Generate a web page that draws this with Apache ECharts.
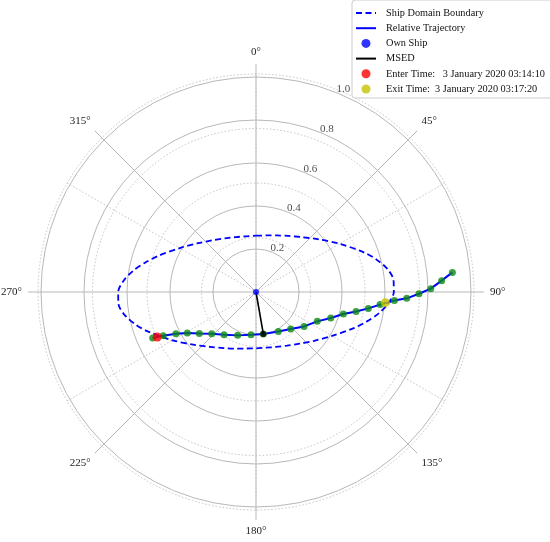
<!DOCTYPE html>
<html><head><meta charset="utf-8">
<script src="https://cdn.jsdelivr.net/npm/echarts@6/dist/echarts.min.js"></script>
<style>html,body{margin:0;padding:0;background:#fff}#c{width:550px;height:542px}</style>
</head><body><div id="c"></div>
<script>
// ---- data (radius in units, angle in degrees clockwise from north) ----
const angleTickLabels = ['0°','45°','90°','135°','180°','225°','270°','315°'];
const radiusTickValues = [0.2, 0.4, 0.6, 0.8, 1.0];
const radiusTickLabels = ['0.2', '0.4', '0.6', '0.8', '1.0'];

const domainAngle = [0,10,20,30,40,50,60,70,75,80,85,90,95,100,105,110,120,130,140,150,160,170,
  180,190,200,210,220,230,240,250,255,260,265,270,275,280,285,290,300,310,320,330,340,350,360];
const domainR = [0.262,0.267,0.280,0.301,0.333,0.381,0.449,0.536,0.581,0.620,0.642,0.641,0.617,0.578,0.532,0.487,0.409,0.353,0.314,0.288,0.272,0.263,
  0.262,0.267,0.280,0.301,0.333,0.381,0.449,0.536,0.581,0.620,0.642,0.641,0.617,0.578,0.532,0.487,0.409,0.353,0.314,0.288,0.272,0.263,0.262];

const trackAngle = [246.0,244.8,242.5,239.2,233.7,226.7,216.8,202.9,186.7,170.1,150.5,136.8,125.6,115.6,109.2,104.1,101.0,98.3,95.8,93.5,92.4,90.6,88.9,86.5,84.3];
const trackR = [0.526,0.477,0.420,0.372,0.327,0.283,0.248,0.219,0.200,0.198,0.211,0.236,0.275,0.316,0.368,0.419,0.474,0.528,0.580,0.645,0.702,0.758,0.813,0.865,0.918];

const ownShip = [0, 0];
const msedR = [0, 0.198];
const msedAngle = [0, 170.1];
const enterPoint = [0.505, 245.5];
const exitPoint = [0.604, 94.7];

const seriesNames = ['Ship Domain Boundary', 'Relative Trajectory', 'Own Ship', 'MSED',
  'Enter Time:   3 January 2020 03:14:10', 'Exit Time:  3 January 2020 03:17:20'];

// ---- chart ----
const FONT = 'Liberation Serif';
const C = [256, 292];
const gridColor = '#b8b8b8';
const dotColor = '#c4c4c4';
const NONE = 'rgba(0,0,0,0)';
const zip = (r, a) => r.map((v, i) => [v, a[i]]);

const chart = echarts.init(document.getElementById('c'), null, {renderer: 'canvas'});
const hiddenAngle = (idx) => ({polarIndex: idx, type: 'value', min: 0, max: 360, startAngle: 90, clockwise: true,
  axisLine: {show: false}, axisTick: {show: false}, axisLabel: {show: false}, splitLine: {show: false}});
const option = {
  animation: false,
  backgroundColor: '#fff',
  polar: [
    {center: C, radius: 228},
    {center: C, radius: 215},
    {center: C, radius: 218}
  ],
  angleAxis: [
    {polarIndex: 0, type: 'value', min: 0, max: 360, interval: 45, startAngle: 90, clockwise: true,
      axisLine: {show: false}, axisTick: {show: false},
      axisLabel: {margin: 6, fontFamily: FONT, fontSize: 11, color: '#222',
        formatter: v => angleTickLabels[Math.round(v / 45)] || ''},
      splitLine: {show: true, lineStyle: {color: gridColor, width: 1}}},
    hiddenAngle(1),
    {polarIndex: 2, type: 'value', min: 0, max: 360, interval: 60, startAngle: 90, clockwise: true,
      axisLine: {show: false}, axisTick: {show: false}, axisLabel: {show: false},
      splitLine: {show: true, lineStyle: {color: dotColor, width: 1, type: [1.5, 2]}}}
  ],
  radiusAxis: [
    {polarIndex: 0, type: 'value', min: 0, max: 1, axisLine: {show: false}, axisTick: {show: false},
      axisLabel: {show: false}, splitLine: {show: false}},
    {polarIndex: 1, type: 'value', min: 0, max: 1, interval: 0.2, axisLine: {show: false}, axisTick: {show: false},
      axisLabel: {show: false}, splitLine: {show: true, lineStyle: {color: gridColor, width: 1}}},
    {polarIndex: 2, type: 'value', min: 0, max: 1, interval: 0.25, axisLine: {show: false}, axisTick: {show: false},
      axisLabel: {show: false}, splitLine: {show: true, lineStyle: {color: dotColor, width: 1, type: [1.5, 2]}}}
  ],
  legend: {
    orient: 'vertical', left: 352, top: 0, selectedMode: false,
    itemWidth: 20, itemHeight: 9, itemGap: 3.2,
    padding: [7, 10, 3, 3],
    backgroundColor: '#fff', borderColor: '#cccccc', borderWidth: 1, borderRadius: 3,
    textStyle: {fontFamily: FONT, fontSize: 10.3, lineHeight: 12, color: '#111', padding: [0, 0, 0, 5]},
    data: [
      {name: seriesNames[0], itemStyle: {color: NONE, borderColor: NONE}},
      {name: seriesNames[1], itemStyle: {color: NONE, borderColor: NONE}},
      {name: seriesNames[2]},
      {name: seriesNames[3], itemStyle: {color: NONE, borderColor: NONE}},
      {name: seriesNames[4]},
      {name: seriesNames[5]}
    ]
  },
  series: [
    {name: seriesNames[0], type: 'line', coordinateSystem: 'polar', polarIndex: 1,
      data: zip(domainR, domainAngle), smooth: 0.3, symbol: 'none',
      lineStyle: {color: '#0000ff', width: 1.8, type: [6, 3.5]}, itemStyle: {color: NONE}, z: 3},
    {name: seriesNames[1], type: 'line', coordinateSystem: 'polar', polarIndex: 1,
      data: zip(trackR, trackAngle), symbol: 'none',
      lineStyle: {color: '#0000ff', width: 2}, itemStyle: {color: NONE}, z: 4},
    {name: 'Track Samples', type: 'scatter', coordinateSystem: 'polar', polarIndex: 1,
      data: zip(trackR, trackAngle), symbolSize: 7,
      itemStyle: {color: '#0a8a14'}, z: 5},
    {name: seriesNames[3], type: 'line', coordinateSystem: 'polar', polarIndex: 1,
      data: zip(msedR, msedAngle), symbol: 'none',
      lineStyle: {color: '#000', width: 1.6}, itemStyle: {color: NONE}, z: 6},
    {name: 'MSED Point', type: 'scatter', coordinateSystem: 'polar', polarIndex: 1,
      data: [zip(msedR, msedAngle)[1]], symbolSize: 6, itemStyle: {color: '#000'}, z: 7},
    {name: seriesNames[2], type: 'scatter', coordinateSystem: 'polar', polarIndex: 1,
      data: [ownShip], symbolSize: 6, itemStyle: {color: '#0000ff'}, z: 7},
    {name: seriesNames[4], type: 'scatter', coordinateSystem: 'polar', polarIndex: 1,
      data: [enterPoint], symbolSize: 9, itemStyle: {color: '#ff0000'}, z: 8},
    {name: seriesNames[5], type: 'scatter', coordinateSystem: 'polar', polarIndex: 1,
      data: [exitPoint], symbolSize: 9, itemStyle: {color: '#c4c400'}, z: 8},
    {name: 'Radius Labels', type: 'scatter', coordinateSystem: 'polar', polarIndex: 1, silent: true,
      symbolSize: 1, itemStyle: {color: NONE},
      data: radiusTickValues.map((v, i) => ({value: [v, 22.5], label: {formatter: radiusTickLabels[i]}})),
      label: {show: true, position: 'inside', offset: [5, -4], fontFamily: FONT, fontSize: 11, color: '#222'},
      z: 2}
  ]
};
chart.setOption(option);
</script>
</body></html>
